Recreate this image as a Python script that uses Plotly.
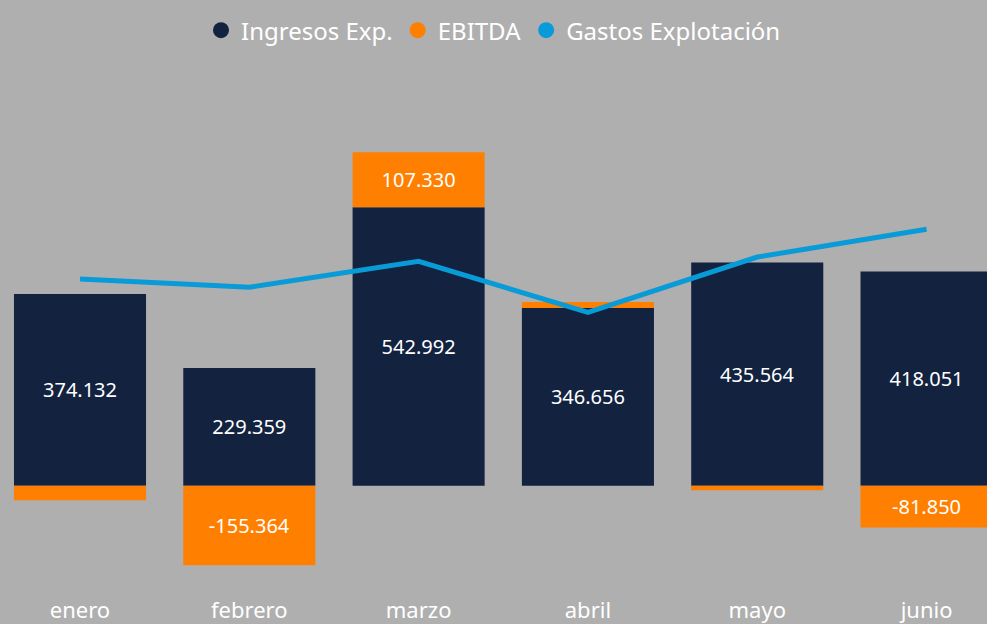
import plotly.graph_objects as go

meses = ["enero", "febrero", "marzo", "abril", "mayo", "junio"]
ingresos = [374132, 229359, 542992, 346656, 435564, 418051]
ebitda = [-28600, -155364, 107330, 11700, -9000, -81850]
gastos = [403000, 387000, 437600, 338000, 446000, 500400]

C_ING = "#12223F"
C_EBI = "#FF7F00"
C_GAS = "#089BD7"
BG = "#AFAFAF"
FONT = "Noto Sans"

fig = go.Figure()
fig.add_trace(go.Bar(
    x=meses, y=ingresos, name="Ingresos Exp.", marker=dict(color=C_ING, line=dict(width=0)),
    texttemplate="%{y:,.0f}", textposition="inside", insidetextanchor="middle",
    textangle=0, textfont=dict(color="white", size=20, family=FONT), showlegend=False,
))
fig.add_trace(go.Bar(
    x=meses, y=ebitda, name="EBITDA", marker=dict(color=C_EBI, line=dict(width=0)),
    texttemplate="%{y:,.0f}", textposition="inside", insidetextanchor="middle",
    textangle=0, textfont=dict(color="white", size=20, family=FONT), showlegend=False,
))
fig.add_trace(go.Scatter(
    x=meses, y=gastos, name="Gastos Explotación", mode="lines",
    line=dict(color=C_GAS, width=5), showlegend=False,
))
# legend entries with circle markers
for nm, col in [("Ingresos Exp.", C_ING), ("EBITDA", C_EBI), ("Gastos Explotación", C_GAS)]:
    fig.add_trace(go.Scatter(x=[None], y=[None], mode="markers", name=nm,
                             marker=dict(color=col, size=19, symbol="circle")))

fig.update_layout(
    width=987, height=624,
    barmode="relative", bargap=0.22,
    separators=",.",
    paper_bgcolor=BG, plot_bgcolor=BG,
    font=dict(family=FONT, color="white"),
    margin=dict(l=0, r=0, t=70, b=39),
    uniformtext=dict(mode="hide", minsize=19),
    legend=dict(orientation="h", x=0.5, xanchor="center", y=0.987, yref="container",
                yanchor="top", font=dict(size=24, color="white", family=FONT),
                itemwidth=30, tracegroupgap=0, bgcolor="rgba(0,0,0,0)"),
    xaxis=dict(range=[-0.4725, 5.357], showgrid=False, zeroline=False, showline=False,
               ticks="", ticklabelstandoff=12,
               tickfont=dict(size=22, color="white", family=FONT)),
    yaxis=dict(range=[-190000, 811000], showgrid=False, zeroline=False, showline=False,
               showticklabels=False, ticks=""),
    hovermode=False,
)

fig.write_html("out.html", config={"displayModeBar": False})

# remove default page margin so the figure fills the window exactly
with open("out.html", "r", encoding="utf-8") as f:
    html = f.read()
html = html.replace("<head>", "<head><style>html,body{margin:0;padding:0;overflow:hidden;background:%s;}</style>" % BG, 1)
with open("out.html", "w", encoding="utf-8") as f:
    f.write(html)
